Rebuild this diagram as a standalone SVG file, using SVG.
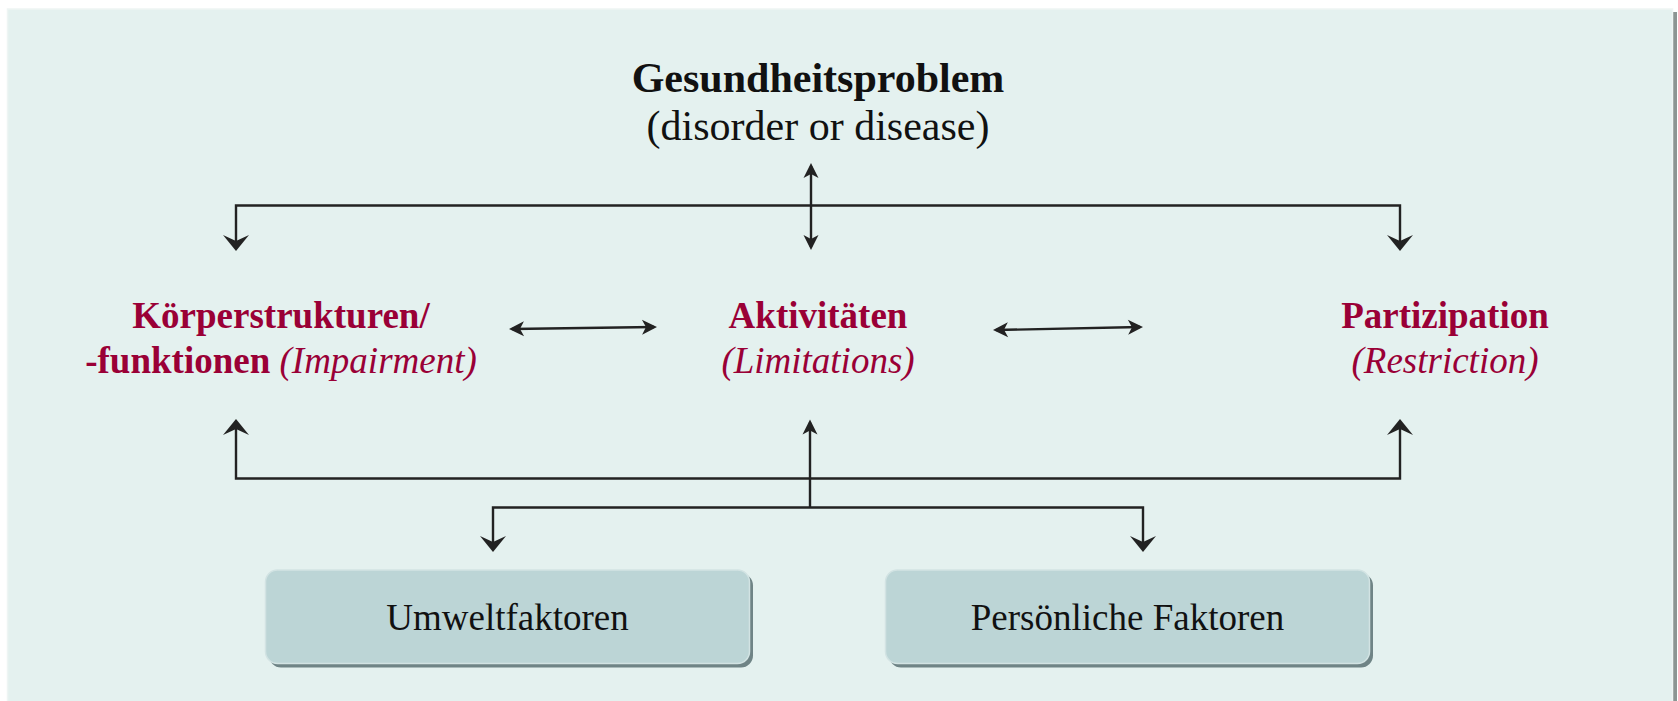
<svg xmlns="http://www.w3.org/2000/svg" width="1678" height="701" viewBox="0 0 1678 701">
<style>
.t{font-family:"Liberation Serif","Times New Roman",serif}
.head{font-size:42px;font-weight:bold;fill:#111}
.sub{font-size:42px;fill:#111}
.red{font-size:37px;fill:#9a0036}
.b{font-weight:bold}
.i{font-style:italic}
.box{fill:#bcd5d6;stroke:#d2e3e3;stroke-width:1.5}
.sh{fill:#6f8486}
.boxt{font-size:37px;fill:#111}
.ln{fill:none;stroke:#222;stroke-width:2.4}
</style>
<defs>
<marker id="big" markerUnits="userSpaceOnUse" viewBox="-18 -14 20 28" markerWidth="20" markerHeight="28" refX="-3" refY="0" orient="auto-start-reverse">
<path d="M0,0 L-16,-13 L-10,0 L-16,13 Z" fill="#222"/>
</marker>
<marker id="sm" markerUnits="userSpaceOnUse" viewBox="-18 -9 20 18" markerWidth="20" markerHeight="18" refX="-3" refY="0" orient="auto-start-reverse">
<path d="M0,0 L-15,-7.5 L-11,0 L-15,7.5 Z" fill="#222"/>
</marker>
</defs>
<rect x="0" y="0" width="1678" height="701" fill="#ffffff"/>
<rect x="1672" y="12" width="5" height="689" fill="#8c9593"/>
<rect x="7.5" y="9" width="1665" height="700" fill="#e4f1ef" stroke="#eef5f4" stroke-width="1.5"/>

<g id="connectors">
<path class="ln" d="M811,166 V247" marker-start="url(#sm)" marker-end="url(#sm)"/>
<path class="ln" d="M236,248 V205.5 H1400 V248" marker-start="url(#big)" marker-end="url(#big)"/>
<path class="ln" d="M236,422 V478.5 H1400 V422" marker-start="url(#big)" marker-end="url(#big)"/>
<path class="ln" d="M810,507.5 V422.5" marker-end="url(#sm)"/>
<path class="ln" d="M493,549 V507.5 H1143 V549" marker-start="url(#big)" marker-end="url(#big)"/>
<path class="ln" d="M512,329 L654,327" marker-start="url(#sm)" marker-end="url(#sm)"/>
<path class="ln" d="M996,330 L1140,327" marker-start="url(#sm)" marker-end="url(#sm)"/>
</g>

<g id="gesundheitsproblem">
<text class="t head" x="818" y="92" text-anchor="middle">Gesundheitsproblem</text>
<text class="t sub" x="818" y="140" text-anchor="middle">(disorder or disease)</text>
</g>

<g id="koerper">
<text class="t red b" x="281" y="328" text-anchor="middle">Körperstrukturen/</text>
<text class="t red" x="281" y="372.5" text-anchor="middle"><tspan class="b">-funktionen</tspan> <tspan class="i">(Impairment)</tspan></text>
</g>

<g id="aktivitaeten">
<text class="t red b" x="818" y="328" text-anchor="middle">Aktivitäten</text>
<text class="t red i" x="818" y="372.5" text-anchor="middle">(Limitations)</text>
</g>

<g id="partizipation">
<text class="t red b" x="1445" y="328" text-anchor="middle">Partizipation</text>
<text class="t red i" x="1445" y="372.5" text-anchor="middle">(Restriction)</text>
</g>

<g id="umweltfaktoren">
<rect class="sh" x="269" y="573.5" width="484" height="94" rx="12"/>
<rect class="box" x="265.5" y="570" width="484" height="93.5" rx="12"/>
<text class="t boxt" x="507.5" y="630" text-anchor="middle">Umweltfaktoren</text>
</g>

<g id="persoenliche">
<rect class="sh" x="889" y="573.5" width="484" height="94" rx="12"/>
<rect class="box" x="885.5" y="570" width="484" height="93.5" rx="12"/>
<text class="t boxt" x="1127.5" y="630" text-anchor="middle">Persönliche Faktoren</text>
</g>
</svg>
